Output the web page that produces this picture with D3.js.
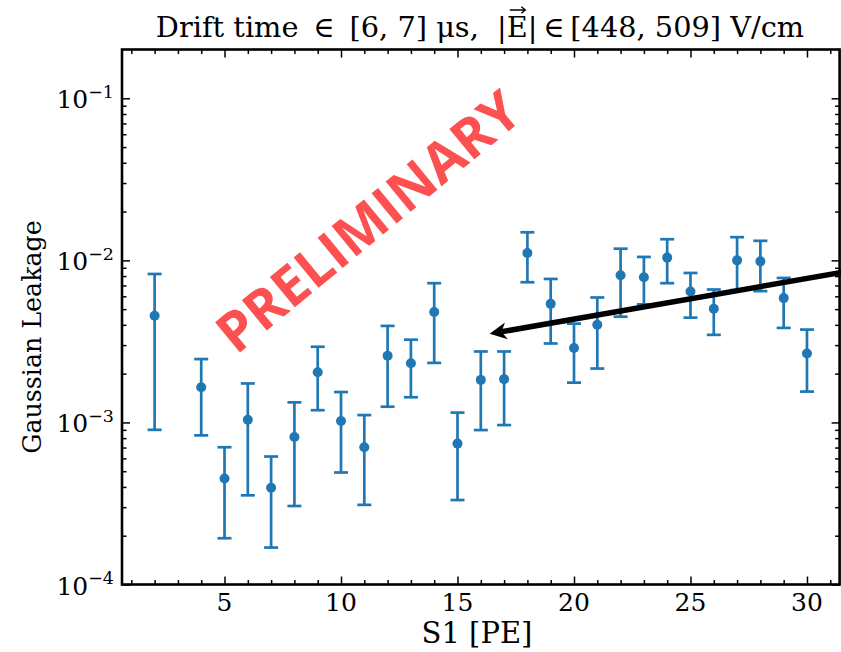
<!DOCTYPE html>
<html>
<head>
<meta charset="utf-8">
<script src="https://cdn.jsdelivr.net/npm/d3@7/dist/d3.min.js"></script>
<style>
  body { margin: 0; background: #fff; }
  svg { display: block; }
</style>
</head>
<body>
<svg id="chart" width="841" height="652"></svg>
<script>

// S1 bins and measured leakage with error-bar ends
const s1Bins = [ 2, 4, 5, 6, 7, 8, 9, 10, 11, 12, 13, 14, 15, 16, 17, 18, 19, 20, 21, 22, 23, 24, 25, 26, 27, 28, 29, 30 ];
const leakage = [ 4.55e-3, 1.65e-3, 4.51e-4, 1.04e-3, 3.95e-4, 8.13e-4, 2.04e-3, 1.02e-3, 7.03e-4, 2.58e-3, 2.32e-3, 4.80e-3, 7.40e-4, 1.83e-3,
  1.85e-3, 1.11e-2, 5.39e-3, 2.88e-3, 4.01e-3, 8.09e-3, 7.87e-3, 1.04e-2, 6.43e-3, 5.03e-3, 1.00e-2, 9.86e-3, 5.85e-3, 2.66e-3 ];
const leakageLow = [ 9.0e-4, 8.32e-4, 1.93e-4, 3.55e-4, 1.69e-4, 3.05e-4, 1.19e-3, 4.91e-4, 3.10e-4, 1.25e-3, 1.43e-3, 2.33e-3, 3.32e-4, 8.97e-4,
  9.63e-4, 7.33e-3, 3.07e-3, 1.76e-3, 2.15e-3, 4.49e-3, 5.35e-3, 7.23e-3, 4.43e-3, 3.47e-3, 6.55e-3, 6.46e-3, 3.83e-3, 1.55e-3 ];
const leakageHigh = [ 8.24e-3, 2.46e-3, 7.03e-4, 1.74e-3, 6.16e-4, 1.33e-3, 2.93e-3, 1.54e-3, 1.11e-3, 3.94e-3, 3.24e-3, 7.23e-3, 1.15e-3, 2.74e-3,
  2.74e-3, 1.49e-2, 7.68e-3, 4.07e-3, 5.90e-3, 1.18e-2, 1.05e-2, 1.35e-2, 8.36e-3, 6.61e-3, 1.39e-2, 1.32e-2, 7.79e-3, 3.74e-3 ];

// ticks
const xMajorTicks = [ 5, 10, 15, 20, 25, 30 ];
const xMinorTicks = [ 1, 2, 3, 4, 6, 7, 8, 9, 11, 12, 13, 14, 16, 17, 18, 19, 21, 22, 23, 24, 26, 27, 28, 29, 31 ];
const yMajorTicks = [ 1e-4, 1e-3, 1e-2, 1e-1 ];
const yTickExponents = [ "\u22124", "\u22123", "\u22122", "\u22121" ];
const yMinorMantissas = [ 2, 3, 4, 5, 6, 7, 8, 9 ];

// annotation arrow (tail, head) in data units
const arrowTail = [ 33.0, 9.2e-3 ];
const arrowHead = [ 16.38, 3.52e-3 ];

const titleText = "Drift time \u2009\u2208 \u2009[6, 7] \u03bcs,  |E|\u2009\u2208\u2009[448, 509] V/cm";

const blue = "#1f77b4";
const serif = "'DejaVu Serif', serif";

const plot = { left: 122, right: 839.6, top: 49.5, bottom: 584.5 };

const svg = d3.select( "#chart" );

const x = d3.scaleLinear()
  .domain( [ 0.6, 31.4 ] )
  .range( [ plot.left, plot.right ] );

const y = d3.scaleLog()
  .domain( [ 1e-4, 0.2 ] )
  .range( [ plot.bottom, plot.top ] );

const yMinorTicks = [];
yMajorTicks.forEach( d => yMinorMantissas.forEach( m => {
  if( d * m < 0.2 ) yMinorTicks.push( d * m );
} ) );

// Drawing error bars

const points = s1Bins.map( ( s, i ) => ( { s1: s, v: leakage[ i ], lo: leakageLow[ i ], hi: leakageHigh[ i ] } ) );

const bars = svg.append( "g" )
  .attr( "stroke", blue )
  .attr( "stroke-width", 2.7 );

bars.selectAll( "line.vert" )
  .data( points )
  .enter().append( "line" )
    .attr( "class", "vert" )
    .attr( "x1", d => x( d.s1 ) )
    .attr( "x2", d => x( d.s1 ) )
    .attr( "y1", d => y( d.lo ) )
    .attr( "y2", d => y( d.hi ) );

[ "lo", "hi" ].forEach( k => {
  bars.selectAll( "line.cap" + k )
    .data( points )
    .enter().append( "line" )
      .attr( "class", "cap" + k )
      .attr( "x1", d => x( d.s1 ) - 7 )
      .attr( "x2", d => x( d.s1 ) + 7 )
      .attr( "y1", d => y( d[ k ] ) )
      .attr( "y2", d => y( d[ k ] ) );
} );

svg.append( "g" )
  .selectAll( "circle" )
  .data( points )
  .enter().append( "circle" )
    .attr( "cx", d => x( d.s1 ) )
    .attr( "cy", d => y( d.v ) )
    .attr( "r", 5 )
    .attr( "fill", blue );

// Axes frame and ticks (all pointing inward)

function tickAxis( axisFn, scale, values, size, transform ) {
  const g = svg.append( "g" )
    .attr( "transform", transform )
    .call( axisFn( scale ).tickValues( values ).tickSizeInner( -size ).tickSizeOuter( 0 ).tickFormat( "" ) );
  g.select( ".domain" ).remove();
  g.selectAll( "line" ).attr( "stroke", "#000" ).attr( "stroke-width", 1.5 );
  return g;
}

tickAxis( d3.axisBottom, x, xMajorTicks, 8, `translate(0,${ plot.bottom })` );
tickAxis( d3.axisBottom, x, xMinorTicks, 4.5, `translate(0,${ plot.bottom })` );
tickAxis( d3.axisTop, x, xMajorTicks, 8, `translate(0,${ plot.top })` );
tickAxis( d3.axisTop, x, xMinorTicks, 4.5, `translate(0,${ plot.top })` );
tickAxis( d3.axisLeft, y, yMajorTicks, 8, `translate(${ plot.left },0)` );
tickAxis( d3.axisLeft, y, yMinorTicks, 4.5, `translate(${ plot.left },0)` );
tickAxis( d3.axisRight, y, yMajorTicks, 8, `translate(${ plot.right },0)` );
tickAxis( d3.axisRight, y, yMinorTicks, 4.5, `translate(${ plot.right },0)` );

svg.append( "rect" )
  .attr( "x", plot.left )
  .attr( "y", plot.top )
  .attr( "width", plot.right - plot.left )
  .attr( "height", plot.bottom - plot.top )
  .attr( "fill", "none" )
  .attr( "stroke", "#000" )
  .attr( "stroke-width", 2.6 );

// Tick labels

svg.selectAll( "text.xTick" )
  .data( xMajorTicks )
  .enter().append( "text" )
    .attr( "class", "xTick" )
    .attr( "x", d => x( d ) )
    .attr( "y", plot.bottom + 26.5 )
    .attr( "text-anchor", "middle" )
    .style( "font-family", serif )
    .style( "font-size", "25px" )
    .text( d => d );

const yLabels = svg.selectAll( "text.yTick" )
  .data( yMajorTicks )
  .enter().append( "text" )
    .attr( "class", "yTick" )
    .attr( "x", plot.left - 8 )
    .attr( "y", d => y( d ) + 10 )
    .attr( "text-anchor", "end" )
    .style( "font-family", serif )
    .style( "font-size", "25px" );

yLabels.append( "tspan" ).text( "10" );
yLabels.append( "tspan" )
  .attr( "dy", -10.5 )
  .style( "font-size", "17.5px" )
  .text( ( d, i ) => yTickExponents[ i ] );

// Axis titles

svg.append( "text" )
  .attr( "x", 477 )
  .attr( "y", 643 )
  .attr( "text-anchor", "middle" )
  .style( "font-family", serif )
  .style( "font-size", "29px" )
  .text( "S1 [PE]" );

svg.append( "text" )
  .attr( "transform", "translate(41,337) rotate(-90)" )
  .attr( "text-anchor", "middle" )
  .style( "font-family", serif )
  .style( "font-size", "25.3px" )
  .text( "Gaussian Leakage" );

const title = svg.append( "text" )
  .attr( "x", 480 )
  .attr( "y", 37 )
  .attr( "text-anchor", "middle" )
  .style( "font-family", serif )
  .style( "font-size", "28.8px" )
  .style( "white-space", "pre" )
  .text( titleText );

// vector arrow over the E
const eIndex = titleText.indexOf( "E" );
const eBox = title.node().getExtentOfChar( eIndex );
const vecY = 37 - 27;
svg.append( "path" )
  .attr( "d", `M${ eBox.x + 3 },${ vecY }H${ eBox.x + eBox.width - 3 }` +
    `M${ eBox.x + eBox.width - 6.5 },${ vecY - 3.2 }L${ eBox.x + eBox.width - 2.5 },${ vecY }L${ eBox.x + eBox.width - 6.5 },${ vecY + 3.2 }` )
  .attr( "fill", "none" )
  .attr( "stroke", "#000" )
  .attr( "stroke-width", 1.4 );

// PRELIMINARY watermark

svg.append( "text" )
  .attr( "transform", "translate(367,220) rotate(-39.5)" )
  .attr( "text-anchor", "middle" )
  .attr( "dominant-baseline", "central" )
  .style( "font-family", "'Open Sans', sans-serif" )
  .style( "font-weight", "bold" )
  .style( "font-size", "55px" )
  .attr( "fill", "#fd5050" )
  .text( "PRELIMINARY" );

// Annotation arrow

const tail = [ x( arrowTail[ 0 ] ), y( arrowTail[ 1 ] ) ];
const tip = [ x( arrowHead[ 0 ] ), y( arrowHead[ 1 ] ) ];
const ang = Math.atan2( tail[ 1 ] - tip[ 1 ], tail[ 0 ] - tip[ 0 ] );
const ux = Math.cos( ang ), uy = Math.sin( ang );
const headLen = 17, headHalf = 8.5, notch = 12;
const back = [ tip[ 0 ] + ux * notch, tip[ 1 ] + uy * notch ];

svg.append( "line" )
  .attr( "x1", tail[ 0 ] )
  .attr( "y1", tail[ 1 ] )
  .attr( "x2", back[ 0 ] )
  .attr( "y2", back[ 1 ] )
  .attr( "stroke", "#000" )
  .attr( "stroke-width", 5.5 );

svg.append( "path" )
  .attr( "d", d3.line()( [
    tip,
    [ tip[ 0 ] + ux * headLen - uy * headHalf, tip[ 1 ] + uy * headLen + ux * headHalf ],
    back,
    [ tip[ 0 ] + ux * headLen + uy * headHalf, tip[ 1 ] + uy * headLen - ux * headHalf ]
  ] ) + "Z" )
  .attr( "fill", "#000" );

</script>
</body>
</html>
